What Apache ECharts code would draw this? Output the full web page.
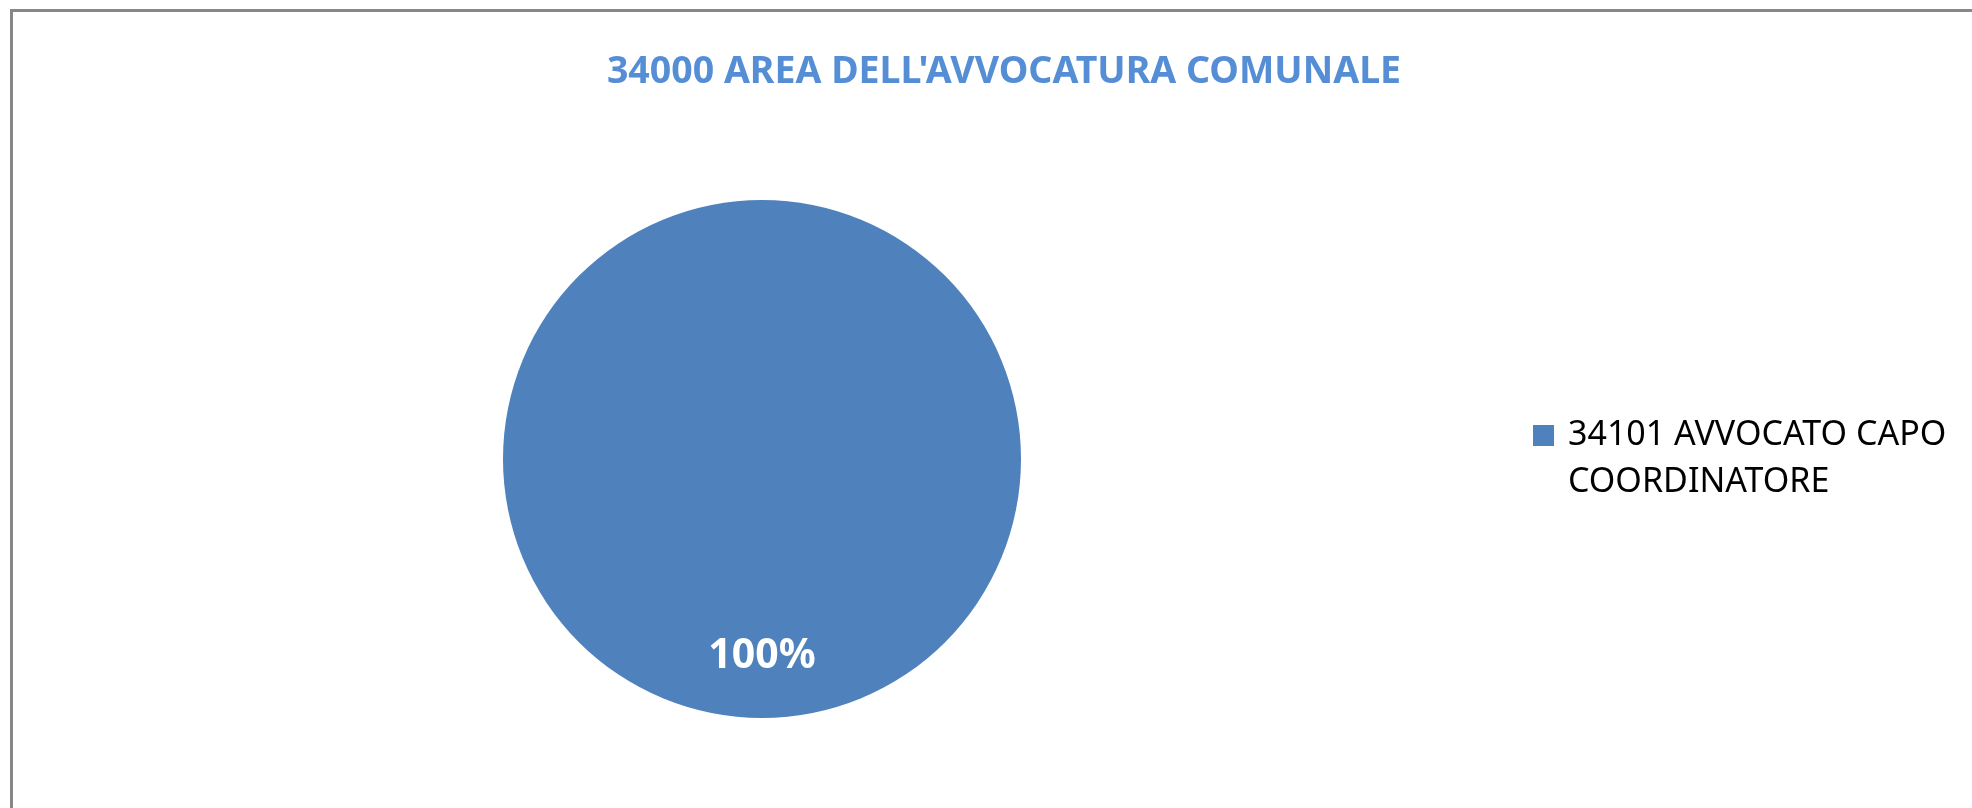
<!DOCTYPE html>
<html>
<head>
<meta charset="utf-8">
<script src="https://cdn.jsdelivr.net/npm/echarts@6/dist/echarts.min.js"></script>
<style>
html,body{margin:0;padding:0;background:#fff;}
#chart{width:1972px;height:808px;}
</style>
</head>
<body>
<div id="chart"></div>
<script>
const chartTitle = "34000 AREA DELL'AVVOCATURA COMUNALE";
const categories = ["34101 AVVOCATO CAPO COORDINATORE"];
const values = [100];
const colors = ["#4F81BD"];

const chart = echarts.init(document.getElementById('chart'), null, {renderer: 'canvas'});
chart.setOption({
  animation: false,
  backgroundColor: '#ffffff',
  color: colors,
  title: {
    text: chartTitle,
    left: 999, top: 48,
    textAlign: 'center',
    textStyle: {fontFamily: 'Noto Sans', fontWeight: 'bold', fontSize: 37.5, color: '#558ED5'}
  },
  graphic: [{
    type: 'rect', silent: true,
    shape: {x: 11.5, y: 10.5, width: 2100, height: 900},
    style: {fill: 'none', stroke: '#878787', lineWidth: 3}
  }],
  legend: {
    orient: 'vertical',
    left: 1533, top: 365,
    padding: 0,
    icon: 'rect', itemWidth: 21, itemHeight: 21,
    selectedMode: false,
    data: categories,
    formatter: name => '\n' + name,
    textStyle: {
      fontFamily: 'Noto Sans', fontSize: 34, color: '#000',
      lineHeight: 47, width: 400, overflow: 'break',
      padding: [0, 0, 0, 9]
    }
  },
  series: [{
    type: 'pie',
    center: [762, 459],
    radius: 259,
    startAngle: 90,
    silent: true,
    data: categories.map((c, i) => ({name: c, value: values[i]})),
    label: {
      show: true, position: 'inside',
      formatter: p => Math.round(p.percent) + '%',
      color: '#fff', fontWeight: 'bold', fontSize: 41, fontFamily: 'Noto Sans'
    },
    labelLayout: {dy: 65},
    labelLine: {show: false},
    itemStyle: {borderWidth: 0}
  }]
});
</script>
</body>
</html>
